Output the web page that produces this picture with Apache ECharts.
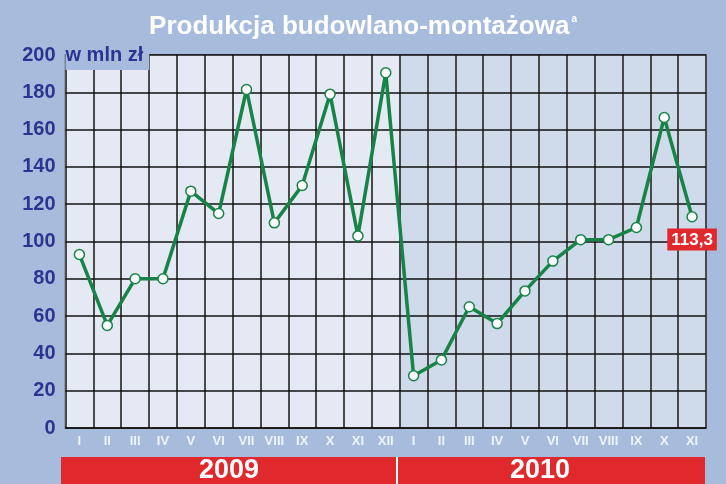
<!DOCTYPE html>
<html>
<head>
<meta charset="utf-8">
<script src="https://cdn.jsdelivr.net/npm/echarts@6/dist/echarts.min.js"></script>
<style>
  html, body { margin: 0; padding: 0; background: #a7bcdd; }
  #chart { width: 726px; height: 484px; }
</style>
</head>
<body>
<div id="chart"></div>
<script>
const months2009 = ['I', 'II', 'III', 'IV', 'V', 'VI', 'VII', 'VIII', 'IX', 'X', 'XI', 'XII'];
const months2010 = ['I', 'II', 'III', 'IV', 'V', 'VI', 'VII', 'VIII', 'IX', 'X', 'XI'];
const values2009 = [93, 55, 80, 80, 127, 115, 181.5, 110, 130, 179, 103, 190.5];
const values2010 = [28, 36.5, 65, 56, 73.5, 89.5, 101, 101, 107.5, 166.5, 113.3];
const years = ['2009', '2010'];

const font = 'Liberation Sans, Arial, sans-serif';
const green = '#168446';
const red = '#e1282c';

// kategorie unikalne: rok|miesiąc
const categories = months2009.map(m => '2009|' + m).concat(months2010.map(m => '2010|' + m));
const values = values2009.concat(values2010);
const bandColors = months2009.map(() => '#e4e9f3').concat(months2010.map(() => '#cfdaeb'));

const lineData = values.map((v, i) => {
  if (i !== values.length - 1) return v;
  return {
    value: v,
    label: {
      show: true,
      position: 'bottom',
      distance: 6,
      formatter: p => String(p.value).replace('.', ','),
      backgroundColor: red,
      color: '#fff',
      fontFamily: font,
      fontWeight: 'bold',
      fontSize: 17,
      padding: [3, 4, 2, 4]
    }
  };
});

const myChart = echarts.init(document.getElementById('chart'));
const option = {
  backgroundColor: '#a7bcdd',
  animation: false,
  title: {
    text: '{t|Produkcja budowlano-montażowa}{s|a}',
    left: 'center',
    top: 9,
    textStyle: {
      rich: {
        t: { color: '#fff', fontFamily: font, fontWeight: 'bold', fontSize: 26 },
        s: { color: '#fff', fontFamily: font, fontWeight: 'bold', fontSize: 10, verticalAlign: 'top', padding: [0, 0, 16, 2] }
      }
    }
  },
  grid: [
    { left: 65.5, right: 20, top: 55, bottom: 56, show: true, borderColor: '#444', borderWidth: 1.5 },
    { left: 61, right: 21, top: 457, bottom: 0 }
  ],
  xAxis: [
    {
      type: 'category',
      gridIndex: 0,
      data: categories,
      boundaryGap: true,
      axisLine: { show: true, lineStyle: { color: '#222', width: 1.5 } },
      axisTick: { show: false },
      axisLabel: {
        interval: 0,
        margin: 7,
        color: '#eef2f9',
        fontFamily: font,
        fontWeight: 'bold',
        fontSize: 13,
        formatter: v => v.split('|')[1]
      },
      splitLine: { show: true, interval: 0, lineStyle: { color: '#4a4a4a', width: 2 } },
      splitArea: { show: true, interval: 0, areaStyle: { color: bandColors } }
    },
    { type: 'value', gridIndex: 1, min: 0, max: categories.length, show: false }
  ],
  yAxis: [
    {
      type: 'value',
      gridIndex: 0,
      z: 2,
      min: 0,
      max: 200,
      interval: 20,
      name: 'w mln zł',
      nameLocation: 'end',
      nameGap: 0,
      nameTextStyle: {
        align: 'left',
        verticalAlign: 'middle',
        color: '#2b3590',
        fontFamily: font,
        fontWeight: 'bold',
        fontSize: 20,
        backgroundColor: '#a7bcdd',
        padding: [1, 6, 9, 0]
      },
      axisLine: { show: false },
      axisTick: { show: false },
      axisLabel: {
        margin: 10,
        color: '#2b3590',
        fontFamily: font,
        fontWeight: 'bold',
        fontSize: 20
      },
      splitLine: { show: true, lineStyle: { color: '#111', width: 1.5 } }
    },
    { type: 'category', gridIndex: 1, data: ['rok'], show: false }
  ],
  series: [
    {
      name: 'Produkcja',
      type: 'line',
      xAxisIndex: 0,
      yAxisIndex: 0,
      data: lineData,
      symbol: 'circle',
      symbolSize: 10,
      lineStyle: { color: green, width: 3.5 },
      itemStyle: { color: '#fff', borderColor: green, borderWidth: 1.5 },
      z: 5
    },
    {
      name: years[0],
      type: 'bar',
      xAxisIndex: 1,
      yAxisIndex: 1,
      stack: 'lata',
      barWidth: '100%',
      data: [months2009.length],
      itemStyle: { color: red },
      label: { show: true, position: 'inside', formatter: '{a}', color: '#fff', fontFamily: font, fontWeight: 'bold', fontSize: 27 },
      markLine: {
        silent: true,
        symbol: 'none',
        label: { show: false },
        lineStyle: { color: '#fff', width: 2, type: 'solid' },
        data: [{ xAxis: months2009.length }]
      }
    },
    {
      name: years[1],
      type: 'bar',
      xAxisIndex: 1,
      yAxisIndex: 1,
      stack: 'lata',
      barWidth: '100%',
      data: [months2010.length],
      itemStyle: { color: red },
      label: { show: true, position: 'inside', offset: [-11, 0], formatter: '{a}', color: '#fff', fontFamily: font, fontWeight: 'bold', fontSize: 27 }
    }
  ]
};
myChart.setOption(option);
</script>
</body>
</html>
